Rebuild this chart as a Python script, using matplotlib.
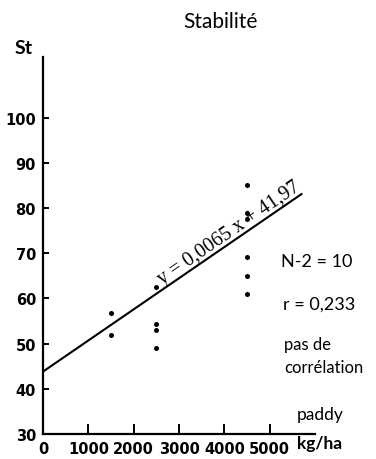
"""Stabilité vs paddy yield scatter with regression line."""

import matplotlib
matplotlib.use("Agg")
import matplotlib.pyplot as plt
import numpy as np

W, H = 376, 460

# data
paddy_kg_ha = [1500, 1500, 2500, 2500, 2500, 2500, 4500, 4500, 4500, 4500, 4500, 4500]
stabilite = [56.7, 51.8, 62.5, 54.4, 52.9, 49.1, 85.1, 79.0, 77.6, 69.1, 64.9, 60.9]
line_x = [0, 5720]
line_y = [43.8, 83.2]
x_ticks = [0, 1000, 2000, 3000, 4000, 5000]
y_ticks = [30, 40, 50, 60, 70, 80, 90, 100]

LABEL_FONT = ["Liberation Sans Narrow", "DejaVu Sans"]
TEXT_FONT = ["Lato", "DejaVu Sans"]


def fx(px):
    return px / W


def fy(py):
    return 1 - py / H


def main():
    fig = plt.figure(figsize=(W / 100, H / 100), dpi=100)
    ax = fig.add_axes([fx(43), fy(435), (315 - 43) / W, (435 - 58) / H])
    ax.set_xlim(0, 6000)
    ax.set_ylim(30, 113.4)

    ax.plot(line_x, line_y, color="black", lw=1.5, solid_capstyle="butt")
    ax.plot(paddy_kg_ha, stabilite, "o", color="black", ms=3.6, mew=0)

    for side in ("top", "right"):
        ax.spines[side].set_visible(False)
    for side in ("left", "bottom"):
        ax.spines[side].set_linewidth(1.6)

    ax.set_xticks(x_ticks)
    ax.set_xticklabels([str(v) for v in x_ticks], family=LABEL_FONT,
                       fontweight="bold", fontsize=10.5)
    ax.set_yticks(y_ticks)
    ax.set_yticklabels([str(v) for v in y_ticks], family=LABEL_FONT,
                       fontweight="bold", fontsize=10.5)
    ax.tick_params(axis="x", direction="in", length=7, width=1.4, pad=5)
    ax.tick_params(axis="y", direction="in", length=4, width=1.4, pad=5)

    # rotate the equation to follow the drawn regression line on screen
    p0, p1 = ax.transData.transform(np.column_stack([line_x, line_y]))
    angle = np.degrees(np.arctan2(p1[1] - p0[1], p1[0] - p0[0]))
    slope = (line_y[1] - line_y[0]) / (line_x[1] - line_x[0])
    x_eq = 2620
    ax.text(x_eq, line_y[0] + slope * x_eq + 1.4, "y = 0,0065 x + 41,97",
            rotation=angle, rotation_mode="anchor", ha="left", va="baseline",
            family=["Liberation Serif", "DejaVu Serif"], fontsize=14.5)

    fig.text(fx(220), fy(22), "Stabilité", ha="center", va="center",
             family=TEXT_FONT, fontsize=15)
    fig.text(fx(24), fy(48), "St", ha="center", va="center",
             family=TEXT_FONT, fontweight="bold", fontsize=14)
    fig.text(fx(297), fy(415), "paddy", ha="left", va="center",
             family=TEXT_FONT, fontsize=12.5)
    fig.text(fx(297), fy(444), "kg/ha", ha="left", va="center",
             family=TEXT_FONT, fontweight="bold", fontsize=12.5)
    fig.text(fx(281), fy(262), "N-2 = 10", ha="left", va="center",
             family=TEXT_FONT, fontsize=13)
    fig.text(fx(283), fy(305), "r = 0,233", ha="left", va="center",
             family=TEXT_FONT, fontsize=13)
    fig.text(fx(284), fy(345), "pas de", ha="left", va="center",
             family=TEXT_FONT, fontsize=12)
    fig.text(fx(284), fy(368), "corrélation", ha="left", va="center",
             family=TEXT_FONT, fontsize=12)

    fig.savefig("out.png", dpi=100)
    plt.close(fig)


if __name__ == "__main__":
    main()
